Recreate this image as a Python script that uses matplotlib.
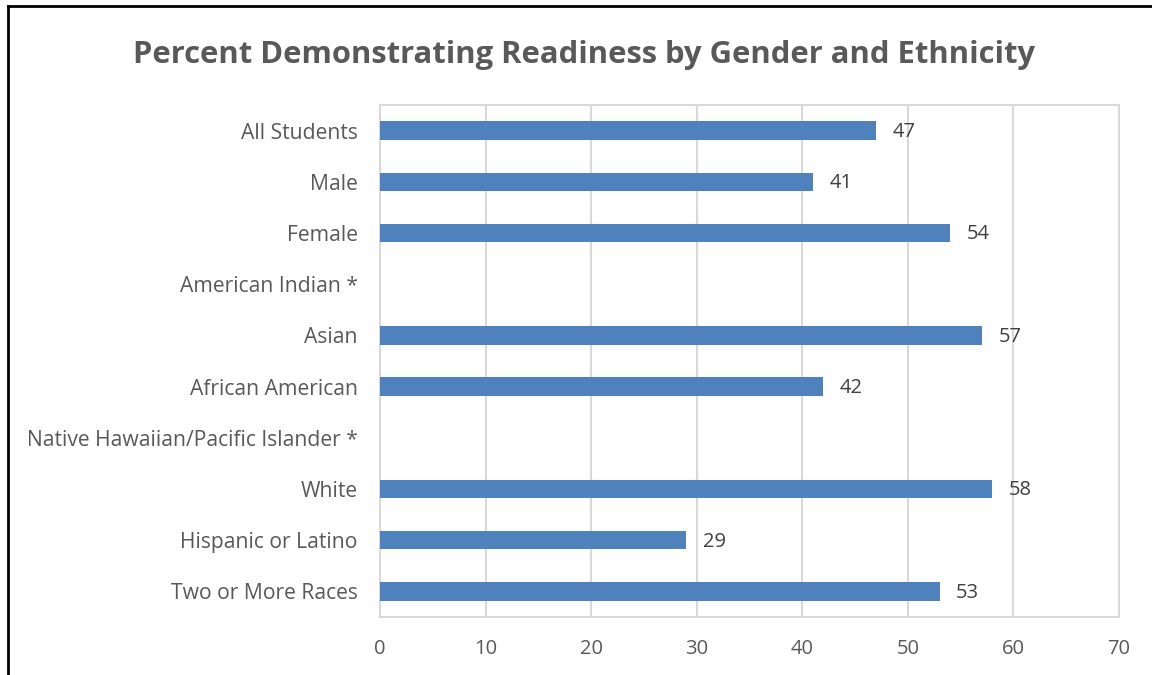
import matplotlib
matplotlib.use("Agg")
import matplotlib.pyplot as plt
from matplotlib.lines import Line2D

categories = ["All Students", "Male", "Female", "American Indian *", "Asian",
              "African American", "Native Hawaiian/Pacific Islander *", "White",
              "Hispanic or Latino", "Two or More Races"]
values = [47, 41, 54, None, 57, 42, None, 58, 29, 53]
xticks = [0, 10, 20, 30, 40, 50, 60, 70]
title = "Percent Demonstrating Readiness by Gender and Ethnicity"

plt.rcParams['font.family'] = ['Open Sans', 'DejaVu Sans']

fig = plt.figure(figsize=(11.52, 6.75), dpi=100)
ax = fig.add_axes([380/1152, 1-617/675, (1119-380)/1152, (617-105)/675])

ypos = list(range(len(categories)))
for y, v in zip(ypos, values):
    if v is None:
        continue
    ax.barh(y, v, height=0.36, color="#4f81bd", zorder=3)
    ax.annotate(str(v), (v, y), xytext=(12, -1), textcoords="offset points",
                va="center", ha="left", fontsize=14.5, color="#404040")

ax.set_ylim(len(categories) - 0.5, -0.5)
ax.set_xlim(0, 70)
ax.set_xticks(xticks)
ax.set_xticklabels([str(t) for t in xticks], fontsize=14.5, color="#595959")
ax.set_yticks(ypos)
ax.set_yticklabels(categories, fontsize=15.2, color="#595959")
ax.tick_params(axis="both", length=0)
ax.tick_params(axis="x", pad=16)
ax.tick_params(axis="y", pad=16)
ax.grid(axis="x", color="#d9d9d9", linewidth=1.5, zorder=0)
for s in ax.spines.values():
    s.set_color("#d9d9d9")
    s.set_linewidth(1.5)

fig.text(584/1152, 1-55/675, title, ha="center", va="center",
         fontsize=22.3, fontweight="bold", color="#595959")

fig.add_artist(Line2D([8/1152, 8/1152], [0, 1-6/675], transform=fig.transFigure,
                      color="black", linewidth=2))
fig.add_artist(Line2D([8/1152, 1], [1-6/675, 1-6/675], transform=fig.transFigure,
                      color="black", linewidth=2))

fig.savefig("out.png", dpi=100)
